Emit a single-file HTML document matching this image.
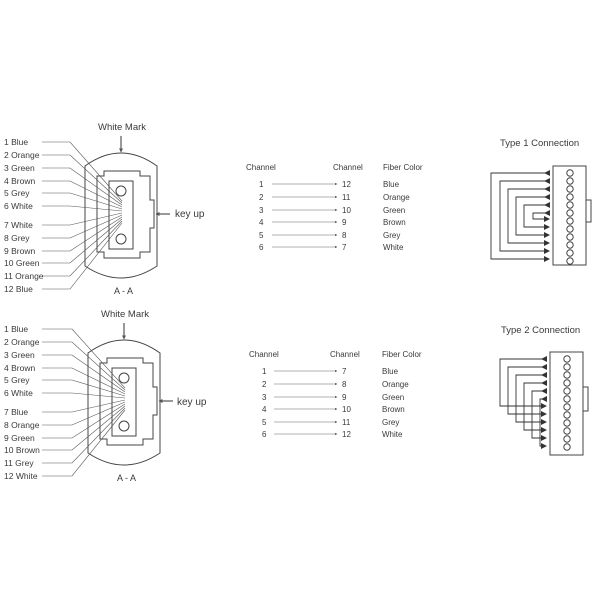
<!DOCTYPE html>
<html><head><style>body{margin:0;background:#fff}svg{display:block}text{font-family:"Liberation Sans",sans-serif;fill:#3a3a3a}</style></head><body>
<svg width="600" height="600" viewBox="0 0 600 600" xmlns="http://www.w3.org/2000/svg">
<defs>
<marker id="sm" markerWidth="4" markerHeight="4" refX="3.5" refY="2" orient="auto"><path d="M0,0 L4,2 L0,4z" fill="#555"/></marker>
<g id="conn">
<path d="M85,166 Q121,140 157,166 L157,266 Q121,290 85,266 Z" fill="none" stroke="#444" stroke-width="1"/>
<path d="M97,176 L104,176 L104,171 L140,171 L140,176 L150,176 L150,200 L154,200 L154,228 L150,228 L150,252 L140,252 L140,258 L104,258 L104,252 L97,252 Z" fill="none" stroke="#444" stroke-width="1"/>
<rect x="109" y="181" width="24" height="68" fill="none" stroke="#444"/>
<circle cx="121" cy="191" r="5" fill="none" stroke="#444"/>
<circle cx="121" cy="239" r="5" fill="none" stroke="#444"/>
</g>
</defs>
<g font-size="8.5">
<text x="98" y="130" font-size="9.5">White Mark</text>
<line x1="121" y1="136" x2="121" y2="152" stroke="#333" marker-end="url(#sm)"/>
<use href="#conn"/>
<line x1="170" y1="214" x2="156" y2="214" stroke="#333" marker-end="url(#sm)"/>
<text x="175" y="217" font-size="10">key up</text>
<text x="114" y="294" font-size="9">A - A</text>
<g stroke="#555" stroke-width="0.6" fill="none">
<path d="M42,142 L70,142 L122,201"/><path d="M42,155 L70,155 L122,203"/><path d="M42,168 L70,168 L122,205"/><path d="M42,181 L70,181 L122,207"/><path d="M42,193 L70,193 L122,209"/><path d="M42,206 L70,206 L122,211"/>
<path d="M42,225 L70,225 L122,213"/><path d="M42,238 L70,238 L122,215"/><path d="M42,251 L70,251 L122,217"/><path d="M42,263 L70,263 L122,219"/><path d="M42,276 L70,276 L122,221"/><path d="M42,289 L70,289 L122,223"/>
</g>
<text x="4" y="145">1 Blue</text><text x="4" y="158">2 Orange</text><text x="4" y="171">3 Green</text><text x="4" y="184">4 Brown</text><text x="4" y="196">5 Grey</text><text x="4" y="209">6 White</text>
<text x="4" y="228">7 White</text><text x="4" y="241">8 Grey</text><text x="4" y="254">9 Brown</text><text x="4" y="266">10 Green</text><text x="4" y="279">11 Orange</text><text x="4" y="292">12 Blue</text>

<text x="101" y="317" font-size="9.5">White Mark</text>
<line x1="124" y1="323" x2="124" y2="339" stroke="#333" marker-end="url(#sm)"/>
<use href="#conn" transform="translate(3,187)"/>
<line x1="173" y1="401" x2="159" y2="401" stroke="#333" marker-end="url(#sm)"/>
<text x="177" y="405" font-size="10">key up</text>
<text x="117" y="481" font-size="9">A - A</text>
<g stroke="#555" stroke-width="0.6" fill="none">
<path d="M42,329 L72,329 L125,388"/><path d="M42,342 L72,342 L125,390"/><path d="M42,355 L72,355 L125,392"/><path d="M42,368 L72,368 L125,394"/><path d="M42,380 L72,380 L125,396"/><path d="M42,393 L72,393 L125,398"/>
<path d="M42,412 L72,412 L125,400"/><path d="M42,425 L72,425 L125,402"/><path d="M42,438 L72,438 L125,404"/><path d="M42,450 L72,450 L125,406"/><path d="M42,463 L72,463 L125,408"/><path d="M42,476 L72,476 L125,410"/>
</g>
<text x="4" y="332">1 Blue</text><text x="4" y="345">2 Orange</text><text x="4" y="358">3 Green</text><text x="4" y="371">4 Brown</text><text x="4" y="383">5 Grey</text><text x="4" y="396">6 White</text>
<text x="4" y="415">7 Blue</text><text x="4" y="428">8 Orange</text><text x="4" y="441">9 Green</text><text x="4" y="453">10 Brown</text><text x="4" y="466">11 Grey</text><text x="4" y="479">12 White</text>

<g font-size="8">
<text x="246" y="170">Channel</text><text x="333" y="170">Channel</text><text x="383" y="170">Fiber Color</text>
<text x="259" y="187">1</text><text x="259" y="200">2</text><text x="259" y="213">3</text><text x="259" y="225">4</text><text x="259" y="238">5</text><text x="259" y="250">6</text>
<text x="342" y="187">12</text><text x="342" y="200">11</text><text x="342" y="213">10</text><text x="342" y="225">9</text><text x="342" y="238">8</text><text x="342" y="250">7</text>
<text x="383" y="187">Blue</text><text x="383" y="200">Orange</text><text x="383" y="213">Green</text><text x="383" y="225">Brown</text><text x="383" y="238">Grey</text><text x="383" y="250">White</text>
<text x="249" y="357">Channel</text><text x="330" y="357">Channel</text><text x="382" y="357">Fiber Color</text>
<text x="262" y="374">1</text><text x="262" y="387">2</text><text x="262" y="400">3</text><text x="262" y="412">4</text><text x="262" y="425">5</text><text x="262" y="437">6</text>
<text x="342" y="374">7</text><text x="342" y="387">8</text><text x="342" y="400">9</text><text x="342" y="412">10</text><text x="342" y="425">11</text><text x="342" y="437">12</text>
<text x="382" y="374">Blue</text><text x="382" y="387">Orange</text><text x="382" y="400">Green</text><text x="382" y="412">Brown</text><text x="382" y="425">Grey</text><text x="382" y="437">White</text>
</g>
<g stroke="#666" stroke-width="0.6">
<line x1="272" y1="184" x2="337" y2="184" marker-end="url(#sm)"/><line x1="272" y1="197" x2="337" y2="197" marker-end="url(#sm)"/><line x1="272" y1="210" x2="337" y2="210" marker-end="url(#sm)"/><line x1="272" y1="222" x2="337" y2="222" marker-end="url(#sm)"/><line x1="272" y1="235" x2="337" y2="235" marker-end="url(#sm)"/><line x1="272" y1="247" x2="337" y2="247" marker-end="url(#sm)"/>
<line x1="274" y1="371" x2="337" y2="371" marker-end="url(#sm)"/><line x1="274" y1="384" x2="337" y2="384" marker-end="url(#sm)"/><line x1="274" y1="397" x2="337" y2="397" marker-end="url(#sm)"/><line x1="274" y1="409" x2="337" y2="409" marker-end="url(#sm)"/><line x1="274" y1="422" x2="337" y2="422" marker-end="url(#sm)"/><line x1="274" y1="434" x2="337" y2="434" marker-end="url(#sm)"/>
</g>

<!-- Type 1 -->
<text x="500" y="146" font-size="9.5">Type 1 Connection</text>
<rect x="553" y="166" width="33" height="99" fill="none" stroke="#444"/>
<rect x="586" y="200" width="5" height="22" fill="none" stroke="#444"/>
<g fill="none" stroke="#444">
<circle cx="570" cy="173" r="3.2"/><circle cx="570" cy="181" r="3.2"/><circle cx="570" cy="189" r="3.2"/><circle cx="570" cy="197" r="3.2"/><circle cx="570" cy="205" r="3.2"/><circle cx="570" cy="213" r="3.2"/><circle cx="570" cy="221" r="3.2"/><circle cx="570" cy="229" r="3.2"/><circle cx="570" cy="237" r="3.2"/><circle cx="570" cy="245" r="3.2"/><circle cx="570" cy="253" r="3.2"/><circle cx="570" cy="261" r="3.2"/>
</g>
<g fill="none" stroke="#333" stroke-width="0.9">
<path d="M546,259 L491,259 L491,173 L546,173"/>
<path d="M546,251 L500,251 L500,181 L546,181"/>
<path d="M546,243 L508,243 L508,189 L546,189"/>
<path d="M546,235 L516,235 L516,197 L546,197"/>
<path d="M546,227 L524,227 L524,205 L546,205"/>
<path d="M546,219 L533,219 L533,213 L546,213"/>
</g>
<g fill="#333">
<path d="M544,173 l6,-3 v6z"/><path d="M544,181 l6,-3 v6z"/><path d="M544,189 l6,-3 v6z"/><path d="M544,197 l6,-3 v6z"/><path d="M544,205 l6,-3 v6z"/><path d="M544,213 l6,-3 v6z"/>
<path d="M550,219 l-6,-3 v6z"/><path d="M550,227 l-6,-3 v6z"/><path d="M550,235 l-6,-3 v6z"/><path d="M550,243 l-6,-3 v6z"/><path d="M550,251 l-6,-3 v6z"/><path d="M550,259 l-6,-3 v6z"/>
</g>

<!-- Type 2 -->
<text x="501" y="333" font-size="9.5">Type 2 Connection</text>
<rect x="550" y="352" width="33" height="103" fill="none" stroke="#444"/>
<rect x="583" y="387" width="5" height="24" fill="none" stroke="#444"/>
<g fill="none" stroke="#444">
<circle cx="567" cy="359" r="3.2"/><circle cx="567" cy="367" r="3.2"/><circle cx="567" cy="375" r="3.2"/><circle cx="567" cy="383" r="3.2"/><circle cx="567" cy="391" r="3.2"/><circle cx="567" cy="399" r="3.2"/><circle cx="567" cy="407" r="3.2"/><circle cx="567" cy="415" r="3.2"/><circle cx="567" cy="423" r="3.2"/><circle cx="567" cy="431" r="3.2"/><circle cx="567" cy="439" r="3.2"/><circle cx="567" cy="447" r="3.2"/>
</g>
<g fill="none" stroke="#333" stroke-width="0.9">
<path d="M543,406 L500,406 L500,359 L543,359"/>
<path d="M543,414 L508,414 L508,367 L543,367"/>
<path d="M543,422 L516,422 L516,375 L543,375"/>
<path d="M543,430 L524,430 L524,383 L543,383"/>
<path d="M543,438 L532,438 L532,391 L543,391"/>
<path d="M543,446 L540,446 L540,399 L543,399"/>
</g>
<g fill="#333">
<path d="M541,359 l6,-3 v6z"/><path d="M541,367 l6,-3 v6z"/><path d="M541,375 l6,-3 v6z"/><path d="M541,383 l6,-3 v6z"/><path d="M541,391 l6,-3 v6z"/><path d="M541,399 l6,-3 v6z"/>
<path d="M547,406 l-6,-3 v6z"/><path d="M547,414 l-6,-3 v6z"/><path d="M547,422 l-6,-3 v6z"/><path d="M547,430 l-6,-3 v6z"/><path d="M547,438 l-6,-3 v6z"/><path d="M547,446 l-6,-3 v6z"/>
</g>
</g>
</svg>
</body></html>
